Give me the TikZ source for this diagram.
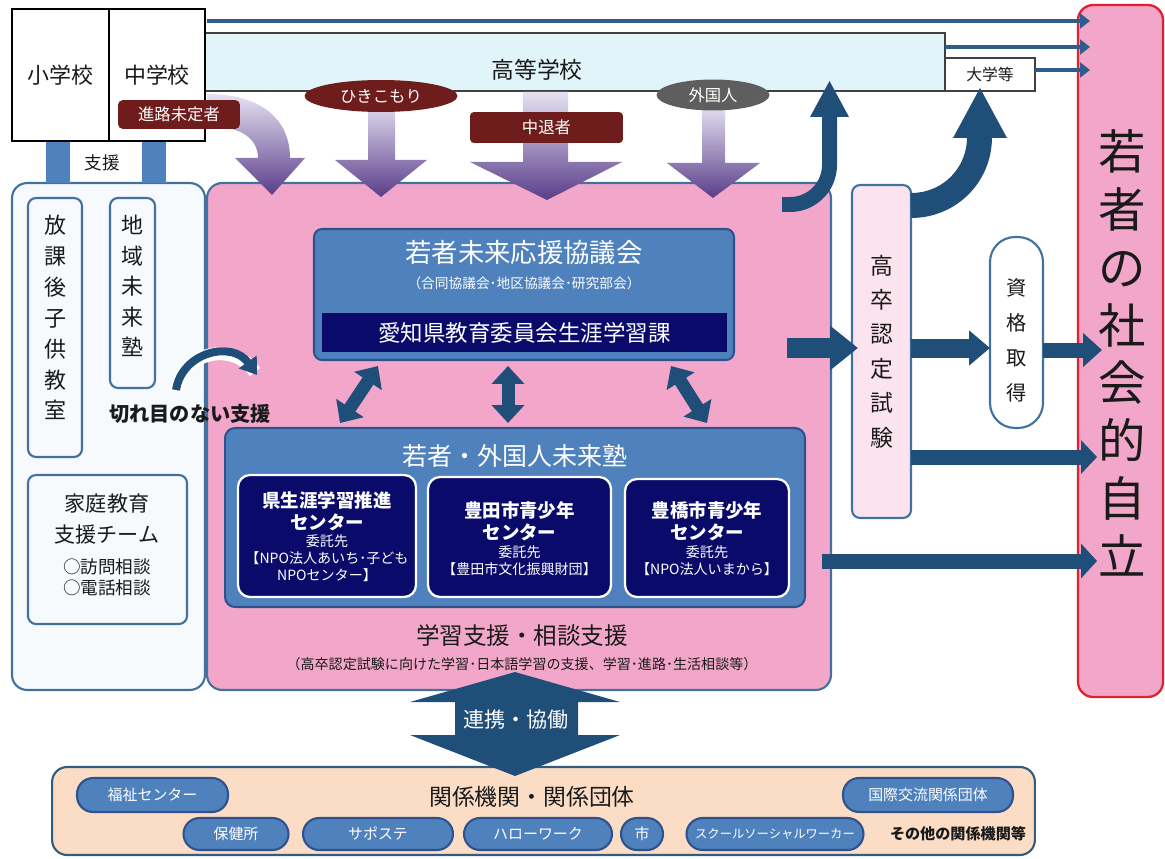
\documentclass[tikz,border=0pt]{standalone}
\usepackage{fontspec}
\setmainfont{Noto Sans CJK JP}
\usetikzlibrary{shapes.geometric,arrows.meta}
\definecolor{pinkm}{HTML}{F2A7CA}
\definecolor{bordb}{HTML}{41719C}
\definecolor{boxblue}{HTML}{4F81BD}
\definecolor{boxblued}{HTML}{2F528F}
\definecolor{navy}{HTML}{0A0A6B}
\definecolor{arrb}{HTML}{1F4E79}
\definecolor{linb}{HTML}{2E5C8E}
\definecolor{darkred}{HTML}{6E1C1C}
\definecolor{grayl}{HTML}{5E5E5E}
\definecolor{cyanl}{HTML}{E1F4FA}
\definecolor{peach}{HTML}{FBDDC5}
\definecolor{pinkl}{HTML}{FCE4EF}
\definecolor{redb}{HTML}{E3202B}
\definecolor{purl}{HTML}{E6E2F2}
\definecolor{purd}{HTML}{5A3D8A}
\definecolor{wfill}{HTML}{F6FAFD}
\definecolor{txt}{HTML}{1A1A1A}
\newcommand\fsz[2]{\fontsize{#1}{#2}\selectfont}
\begin{document}
\begin{tikzpicture}[x=0.02cm,y=-0.02cm,
  every node/.style={inner sep=0pt, outer sep=0pt, text=txt},
  wbox/.style={draw=bordb, line width=1.2pt, fill=wfill, rounded corners=0.16cm},
  bluebox/.style={fill=boxblue, draw=boxblued, line width=1.2pt, rounded corners=0.16cm},
  ctr/.style={fill=navy, draw=white, line width=1.3pt, rounded corners=0.24cm},
  pill/.style={fill=boxblue, draw=boxblued, line width=1.2pt, rounded corners=0.32cm, text=white, font=\fsz{8.5}{10}},
  lbl/.style={fill=darkred, text=white, font=\fsz{9.3}{11}},
  purarrow/.style={top color=purl, bottom color=purd},
  topline/.style={draw=linb, line width=2.3pt, -{Triangle[length=0.2cm,width=0.3cm]}},
  dbl/.style={draw=arrb, line width=0.26cm, {Triangle[length=0.36cm,width=0.64cm]}-{Triangle[length=0.36cm,width=0.64cm]}},
  vtext/.style={align=center}
]
\useasboundingbox (0,0) rectangle (1165,858);

% big background boxes
\node[wbox, rounded corners=0.3cm, minimum width=3.86cm, minimum height=10.14cm] (left) at (108.5,436.5) {};
\node[draw=bordb, line width=1.2pt, fill=pinkm, rounded corners=0.3cm, minimum width=12.48cm, minimum height=10.14cm] (main) at (519,436.5) {};

% support connectors
\node[fill=boxblue, minimum width=0.48cm, minimum height=0.84cm] (sup1) at (58,162) {};
\node[fill=boxblue, minimum width=0.48cm, minimum height=0.84cm] (sup2) at (154,162) {};
\node[font=\fsz{10}{12}] (suptxt) at (102,163) {支援};

% high school, schools, university
\node[draw=black!75, line width=1.1pt, fill=cyanl, minimum width=14.8cm, minimum height=1.16cm] (hs) at (575,62) {};
\node[font=\fsz{13}{15}] (hstxt) at (537,70) {高等学校};
\node[draw=black, line width=1.2pt, fill=white, minimum width=1.94cm, minimum height=2.64cm, font=\fsz{12.5}{14}] (sho) at (60.5,75) {小学校};
\node[draw=black, line width=1.2pt, fill=white, minimum width=1.92cm, minimum height=2.64cm, font=\fsz{12.5}{14}] (chu) at (157,75) {中学校};
\node[draw=black!75, line width=1.1pt, fill=white, minimum width=1.8cm, minimum height=0.66cm, font=\fsz{9}{11}] (univ) at (990,74.5) {大学等};

% purple arrows
\shade[purarrow] (368,100) -- (395,100) -- (395,160) -- (427,160) -- (381,197) -- (335,160) -- (368,160) -- cycle;
\shade[purarrow] (523,92) -- (568,92) -- (568,162) -- (622,162) -- (547,200) -- (470,162) -- (523,162) -- cycle;
\shade[purarrow] (702,105) -- (725,105) -- (725,163) -- (760,163) -- (713,198) -- (667,163) -- (702,163) -- cycle;
\shade[purarrow] (207,94) .. controls (262,94) and (290,120) .. (290,158) -- (305,158) -- (272,195) -- (235,158) -- (258,158) .. controls (258,138) and (240,126) .. (207,126) -- cycle;

% labels
\node[lbl, rounded corners=0.1cm, minimum width=2.44cm, minimum height=0.58cm] (shinro) at (179,114.5) {進路未定者};
\node[lbl, ellipse, minimum width=3.06cm, minimum height=0.64cm] (hiki) at (381,96) {ひきこもり};
\node[lbl, rounded corners=0.08cm, minimum width=3.06cm, minimum height=0.62cm] (chutai) at (546.5,127.5) {中退者};
\node[lbl, fill=grayl, ellipse, minimum width=2.26cm, minimum height=0.62cm] (gaikoku) at (713,95) {外国人};

% goal box
\node[draw=redb, line width=1.3pt, fill=pinkm, rounded corners=0.3cm, minimum width=1.7cm, minimum height=13.84cm] (goal) at (1120.5,351) {};
\node[font=\fsz{27}{32.9}, vtext] (goaltxt) at (1122,353) {若\\者\\の\\社\\会\\的\\自\\立};

% top lines
\coordinate (l1s) at (207,21);
\coordinate (l1e) at (1090,21);
\coordinate (l2s) at (945,47);
\coordinate (l2e) at (1090,47);
\coordinate (l3s) at (1035,70);
\coordinate (l3e) at (1090,70);
\draw[topline] (l1s) -- (l1e);
\draw[topline] (l2s) -- (l2e);
\draw[topline] (l3s) -- (l3e);

% left column
\node[wbox, minimum width=1.08cm, minimum height=5.18cm] (houka) at (55,327.5) {};
\node[font=\fsz{12.5}{17.6}, vtext] (houkatxt) at (55,317.5) {放\\課\\後\\子\\供\\教\\室};
\node[wbox, minimum width=0.9cm, minimum height=3.8cm] (chiiki) at (132.5,293) {};
\node[font=\fsz{12.5}{17.3}, vtext] (chiikitxt) at (132.5,286) {地\\域\\未\\来\\塾};
\draw[white, line width=0.26cm] (176,392) .. controls (182,352) and (232,340) .. (255,372);
\draw[arrb, line width=0.16cm, -{Triangle[length=0.32cm,width=0.42cm]}] (176,390) .. controls (182,352) and (232,340) .. (257,375);
\node[font=\bfseries\fsz{11.5}{13}] (seamless) at (190,414) {切れ目のない支援};
\node[wbox, minimum width=3.18cm, minimum height=2.98cm] (katei) at (107.5,549.5) {};
\node[font=\fsz{12}{18.1}, vtext] (kateitxt) at (107,519) {家庭教育\\支援チーム};
\node[font=\fsz{10}{11.9}, vtext] (kateisub) at (107,577.5) {○訪問相談\\○電話相談};

% council
\node[bluebox, minimum width=8.4cm, minimum height=2.62cm] (council) at (524,294.5) {};
\node[text=white, font=\fsz{15}{17}] (counciltxt) at (524,253) {若者未来応援協議会};
\node[text=white, font=\fsz{7.8}{9}] (councilsub) at (524,283) {（合同協議会･地区協議会･研究部会）};
\node[fill=navy, minimum width=8.1cm, minimum height=0.78cm, text=white, font=\fsz{12.8}{14}] (bureau) at (524.5,332.5) {愛知県教育委員会生涯学習課};

% double arrows
\coordinate (d1a) at (378,366); \coordinate (d1b) at (340,423);
\coordinate (d2a) at (508,366); \coordinate (d2b) at (508,423);
\coordinate (d3a) at (671,366); \coordinate (d3b) at (707,423);
\draw[dbl] (d1a) -- (d1b);
\draw[dbl] (d2a) -- (d2b);
\draw[dbl] (d3a) -- (d3b);

% juku
\node[bluebox, rounded corners=0.2cm, minimum width=11.6cm, minimum height=3.58cm] (juku) at (515,517.5) {};
\node[text=white, font=\fsz{14.2}{16}] (jukutxt) at (515,456) {若者・外国人未来塾};
\node[ctr, minimum width=3.56cm, minimum height=2.44cm] (c1) at (327,536) {};
\node[ctr, minimum width=3.66cm, minimum height=2.4cm] (c2) at (519.5,537) {};
\node[ctr, minimum width=3.28cm, minimum height=2.36cm] (c3) at (707,538) {};
\node[text=white, font=\bfseries\fsz{10.5}{12.5}, vtext] (c1a) at (327,511) {県生涯学習推進\\センター};
\node[text=white, font=\fsz{8}{9.6}, vtext] (c1b) at (327,558) {委託先\\【NPO法人あいち･子ども\\NPOセンター】};
\node[text=white, font=\bfseries\fsz{10.5}{12.5}, vtext] (c2a) at (519.5,521) {豊田市青少年\\センター};
\node[text=white, font=\fsz{8}{9.6}, vtext] (c2b) at (519.5,560.5) {委託先\\【豊田市文化振興財団】};
\node[text=white, font=\bfseries\fsz{10.5}{12.5}, vtext] (c3a) at (707,521) {豊橋市青少年\\センター};
\node[text=white, font=\fsz{8}{9.6}, vtext] (c3b) at (707,560.5) {委託先\\【NPO法人いまから】};

\node[font=\fsz{13.4}{15}] (study) at (522,636) {学習支援・相談支援};
\node[font=\fsz{8}{10}] (studysub) at (522,664) {（高卒認定試験に向けた学習･日本語学習の支援、学習･進路･生活相談等）};

% exam and qualification
\node[fill=pinkl, draw=bordb, line width=1.2pt, rounded corners=0.16cm, minimum width=1.18cm, minimum height=6.66cm] (kousotsu) at (881.5,351.5) {};
\node[font=\fsz{13}{19.6}, vtext] (kousotsutxt) at (881.5,351.5) {高\\卒\\認\\定\\試\\験};
\node[fill=white, draw=bordb, line width=1.2pt, rounded corners=0.5cm, minimum width=1.06cm, minimum height=3.82cm] (shikaku) at (1016.5,332.5) {};
\node[font=\fsz{11.5}{19.8}, vtext] (shikakutxt) at (1016.5,340.5) {資\\格\\取\\得};

% blue straight arrows
\draw[arrb, line width=0.4cm, -{Triangle[length=0.56cm,width=0.86cm]}] (787,348) -- (858,348);
\draw[arrb, line width=0.38cm, -{Triangle[length=0.42cm,width=0.68cm]}] (911,348) -- (990,348);
\draw[arrb, line width=0.3cm, -{Triangle[length=0.38cm,width=0.66cm]}] (1043,350) -- (1102,350);
\draw[arrb, line width=0.3cm, -{Triangle[length=0.32cm,width=0.66cm]}] (911,457) -- (1097,457);
\draw[arrb, line width=0.3cm, -{Triangle[length=0.32cm,width=0.68cm]}] (822,561) -- (1097,561);

% blue curved arrows
\draw[arrb, line width=0.3cm] (782,204.5) -- (790,204.5) .. controls (811.8,204.5) and (829.5,186.8) .. (829.5,165) -- (829.5,116);
\fill[arrb] (810,117) -- (829.5,81) -- (849,117) -- cycle;
\draw[arrb, line width=0.5cm] (911,205.5) .. controls (949.3,205.5) and (979.5,175.3) .. (979.5,137);
\fill[arrb] (953,138) -- (980,88) -- (1007,138) -- cycle;

% bottom organisations
\node[fill=peach, draw=bordb!80!black, line width=1.2pt, rounded corners=0.3cm, minimum width=19.66cm, minimum height=1.76cm] (org) at (543.5,811) {};
\node[font=\fsz{13}{15}] (orgtxt) at (532,797) {関係機関・関係団体};
\node[pill, minimum width=3.02cm, minimum height=0.68cm] (p1) at (152.5,795) {福祉センター};
\node[pill, minimum width=3.4cm, minimum height=0.68cm] (p2) at (928,795) {国際交流関係団体};
\node[pill, minimum width=2.1cm, minimum height=0.64cm] (p3) at (236,834) {保健所};
\node[pill, minimum width=3.0cm, minimum height=0.64cm] (p4) at (378,834) {サポステ};
\node[pill, minimum width=2.96cm, minimum height=0.64cm] (p5) at (538,834) {ハローワーク};
\node[pill, minimum width=0.84cm, minimum height=0.64cm] (p6) at (642,834) {市};
\node[pill, minimum width=3.54cm, minimum height=0.64cm, font=\fsz{7}{8}] (p7) at (775,834) {スクールソーシャルワーカー};
\node[font=\bfseries\fsz{8.6}{10}] (others) at (958,834) {その他の関係機関等};

% cooperation arrow
\fill[arrb] (515,672) -- (620,702) -- (578,702) -- (578,735) -- (620,735) -- (515,776) -- (410,735) -- (455,735) -- (455,702) -- (410,702) -- cycle;
\node[text=white, font=\fsz{12}{14}] (coop) at (516,720) {連携・協働};
\end{tikzpicture}
\end{document}
